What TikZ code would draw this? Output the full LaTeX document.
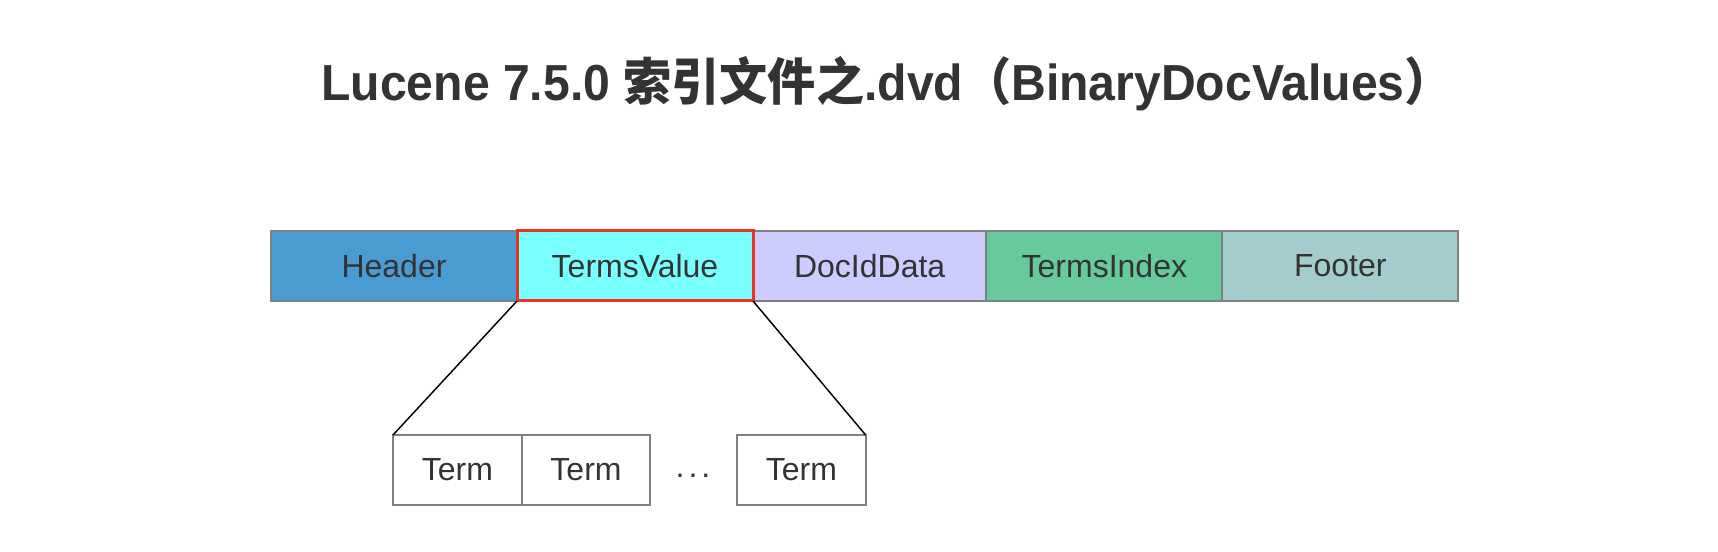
\documentclass[tikz,border=0pt]{standalone}
\usepackage{fontspec}
\setmainfont{Liberation Sans}
\newfontfamily\cjkfont{Noto Sans CJK SC}
\usetikzlibrary{positioning}

\definecolor{txtgray}{HTML}{333333}
\definecolor{boxgray}{HTML}{808080}
\definecolor{hdrblue}{HTML}{4A9BD2}
\definecolor{tvcyan}{HTML}{7AFFFF}
\definecolor{docviolet}{HTML}{CCCCFF}
\definecolor{tigreen}{HTML}{67C99C}
\definecolor{ftgray}{HTML}{A5CCCC}
\definecolor{selred}{HTML}{EB3324}

\begin{document}
\begin{tikzpicture}[x=0.75pt,y=-0.75pt,
    every node/.style={font=\fontsize{24}{28}\selectfont, text=txtgray},
    seg/.style={draw=boxgray, line width=1.5pt, outer sep=0pt, inner sep=0pt, minimum height=52.5pt},
    term/.style={seg, minimum width=96.5pt}]

    \useasboundingbox (0,0) rectangle (1718,552);

    \node[font=\fontsize{38}{46}\selectfont\bfseries, anchor=base, xscale=0.95] (title) at (887,101)
        {Lucene 7.5.0 {\cjkfont 索引文件之}.dvd{\cjkfont （}BinaryDocValues{\cjkfont ）}};

    % file layout
    \node[seg, fill=hdrblue, minimum width=184.5pt, anchor=north west] (hdr) at (271,231) {Header};
    \node[seg, fill=tvcyan, minimum width=177pt, right=0pt of hdr] (tv) {TermsValue};
    \node[seg, fill=docviolet, minimum width=175pt, right=0pt of tv] (doc) {DocIdData};
    \node[seg, fill=tigreen, minimum width=177pt, right=0pt of doc] (ti) {TermsIndex};
    \node[seg, fill=ftgray, minimum width=177pt, right=0pt of ti] (ftr) {Footer};
    \draw[selred, line width=2.25pt] (tv.south west) rectangle (tv.north east);

    % terms
    \node[term, anchor=north west] (t1) at (393,435) {Term};
    \node[term, right=0pt of t1] (t2) {Term};
    \node[term, anchor=north west] (t3) at (737,435) {Term};
    \node[anchor=base] (dots) at (693,477) {.\hspace{3pt}.\hspace{3pt}.};

    \draw[line width=1.1pt] (tv.south west) -- (t1.north west);
    \draw[line width=1.1pt] (tv.south east) -- (t3.north east);

\end{tikzpicture}
\end{document}
